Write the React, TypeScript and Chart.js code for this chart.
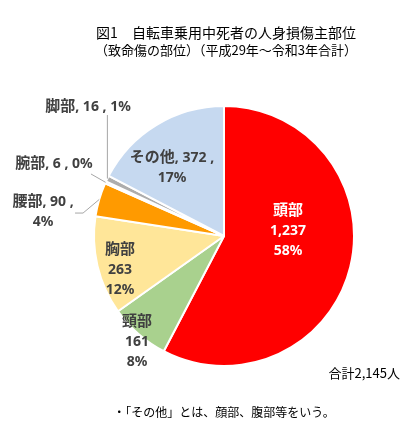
import { useEffect, useRef } from 'react';
import { Chart, ArcElement, PieController } from 'chart.js';

Chart.register(ArcElement, PieController);

const titleLines = ['図1　自転車乗用中死者の人身損傷主部位', '（致命傷の部位）（平成29年～令和3年合計）'];
const categories = ['頭部', '頸部', '胸部', '腰部', '腕部', '脚部', 'その他'];
const deaths = [1237, 161, 263, 90, 6, 16, 372];
const sliceColors = ['#FF0000', '#A9D18E', '#FFE699', '#FF9A00', '#D9D9D9', '#ADADAD', '#C6D9F0'];
const totalLabel = '合計2,145人';
const footnote = '・「その他」とは、顔部、腹部等をいう。';

const total = deaths.reduce((a, b) => a + b, 0);
const fmt = (v: number) => v.toLocaleString('en-US');
const pct = (v: number) => Math.round((v / total) * 100) + '%';

type Spec = {
  dx: number;
  dy: number;
  layout: 'stack' | 'two' | 'one';
  color?: string;
  leader?: 'vertical' | number[][];
};

// label placement relative to pie center, in units of radius
const labelSpecs: Spec[] = [
  { dx: 0.492, dy: -0.038, layout: 'stack', color: '#FFFFFF' },
  { dx: -0.669, dy: 0.815, layout: 'stack' },
  { dx: -0.8, dy: 0.262, layout: 'stack' },
  { dx: -1.392, dy: -0.188, layout: 'two', leader: [[40, 1.5], [32, 1.5]] },
  { dx: -1.308, dy: -0.554, layout: 'one', leader: [[37, 10]] },
  { dx: -1.046, dy: -0.992, layout: 'one', leader: 'vertical' },
  { dx: -0.4, dy: -0.523, layout: 'two' },
];

const NAME_FONT = 'bold 15px "Noto Sans", "Noto Sans CJK JP", sans-serif';
const NUM_FONT = 'bold 14px "Noto Sans", "Noto Sans CJK JP", sans-serif';
const LABEL_COLOR = '#404040';

function drawSegments(ctx: CanvasRenderingContext2D, segs: [string, string][], cx: number, cy: number, color: string) {
  let w = 0;
  const widths = segs.map(([t, f]) => {
    ctx.font = f;
    const m = ctx.measureText(t).width;
    w += m;
    return m;
  });
  let x = cx - w / 2;
  ctx.fillStyle = color;
  ctx.textAlign = 'left';
  ctx.textBaseline = 'middle';
  segs.forEach(([t, f], i) => {
    ctx.font = f;
    ctx.fillText(t, x, cy);
    x += widths[i];
  });
}

const labelPlugin = {
  id: 'sliceLabels',
  afterDraw(chart: any) {
    const ctx: CanvasRenderingContext2D = chart.ctx;
    const meta = chart.getDatasetMeta(0);
    const area = chart.chartArea;
    const cxTitle = (area.left + area.right) / 2 + 2;
    ctx.save();
    // title
    ctx.fillStyle = '#000000';
    ctx.textAlign = 'center';
    ctx.textBaseline = 'middle';
    ctx.font = '14px "Noto Sans CJK JP", sans-serif';
    ctx.fillText(titleLines[0], cxTitle, 33);
    ctx.font = '13px "Noto Sans CJK JP", sans-serif';
    ctx.fillText(titleLines[1], cxTitle, 50);

    meta.data.forEach((arc: any, i: number) => {
      const p = arc.getProps(['x', 'y', 'startAngle', 'endAngle', 'outerRadius'], true);
      const spec = labelSpecs[i];
      const lx = p.x + spec.dx * p.outerRadius;
      const ly = p.y + spec.dy * p.outerRadius;
      const mid = (p.startAngle + p.endAngle) / 2;
      const ex = p.x + Math.cos(mid) * p.outerRadius;
      const ey = p.y + Math.sin(mid) * p.outerRadius;
      if (spec.leader) {
        ctx.strokeStyle = '#A6A6A6';
        ctx.lineWidth = 1;
        ctx.beginPath();
        ctx.moveTo(ex, ey);
        if (spec.leader === 'vertical') {
          ctx.lineTo(ex, ly + 8);
        } else {
          spec.leader.forEach(([ox, oy]) => ctx.lineTo(lx + ox, ly + oy));
        }
        ctx.stroke();
      }
      const color = spec.color || LABEL_COLOR;
      const name = categories[i];
      const val = fmt(deaths[i]);
      const pc = pct(deaths[i]);
      if (spec.layout === 'stack') {
        drawSegments(ctx, [[name, NAME_FONT]], lx, ly - 20, color);
        drawSegments(ctx, [[val, NUM_FONT]], lx, ly, color);
        drawSegments(ctx, [[pc, NUM_FONT]], lx, ly + 20, color);
      } else if (spec.layout === 'two') {
        drawSegments(ctx, [[name, NAME_FONT], [', ' + val + ' ,', NUM_FONT]], lx, ly - 10, color);
        drawSegments(ctx, [[pc, NUM_FONT]], lx, ly + 10, color);
      } else {
        drawSegments(ctx, [[name, NAME_FONT], [', ' + val + ' , ' + pc, NUM_FONT]], lx, ly, color);
      }
    });

    // total & footnote
    ctx.fillStyle = '#000000';
    ctx.textBaseline = 'middle';
    ctx.textAlign = 'right';
    ctx.font = '13px "Noto Sans CJK JP", sans-serif';
    ctx.fillText(totalLabel, 400, 373);
    ctx.textAlign = 'center';
    ctx.font = '12px "Noto Sans CJK JP", sans-serif';
    ctx.fillText(footnote, (area.left + area.right) / 2, 412);
    ctx.restore();
  },
};

export default function App() {
  const ref = useRef<HTMLCanvasElement | null>(null);
  useEffect(() => {
    if (!ref.current) return;
    const chart = new Chart(ref.current, {
      type: 'pie',
      data: {
        labels: categories,
        datasets: [
          {
            data: deaths,
            backgroundColor: sliceColors,
            borderColor: '#FFFFFF',
            borderWidth: 2,
          },
        ],
      },
      options: {
        animation: false,
        responsive: false,
        rotation: 0,
        layout: { padding: { left: 93, right: 63, top: 105, bottom: 69 } },
        plugins: {
          legend: { display: false },
          tooltip: { enabled: false },
        },
        events: [],
      },
      plugins: [labelPlugin],
    });
    return () => chart.destroy();
  }, []);
  return (
    <div style={{ position: 'absolute', left: 0, top: 0, width: 418, height: 436, background: '#fff' }}>
      <canvas ref={ref} width={418} height={436} style={{ width: 418, height: 436, display: 'block' }} />
    </div>
  );
}
